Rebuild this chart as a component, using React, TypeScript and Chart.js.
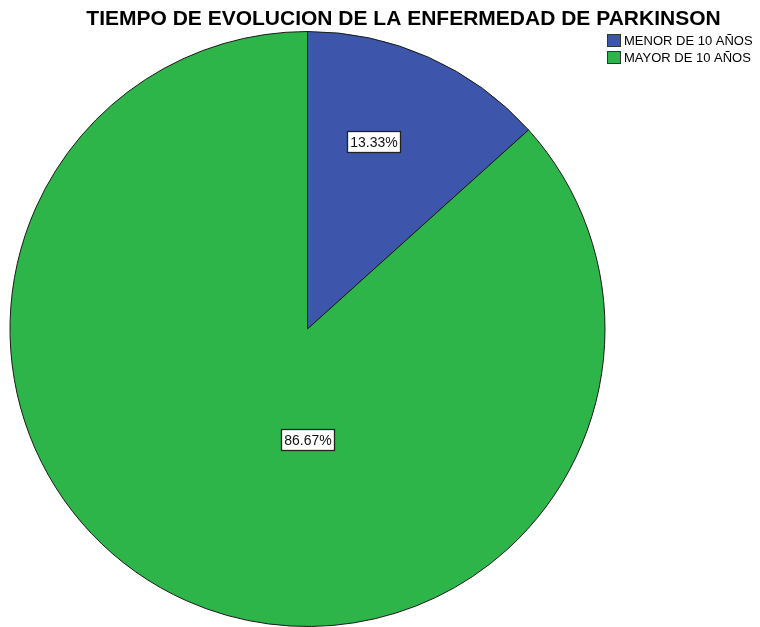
import React, { useEffect, useRef } from "react";
import { Chart, registerables } from "chart.js";

Chart.register(...registerables);

const TITLE = "TIEMPO DE EVOLUCION DE LA ENFERMEDAD DE PARKINSON";
const categories = ["MENOR DE 10 AÑOS", "MAYOR DE 10 AÑOS"];
const counts = [2, 13];
const colors = ["#3D56AB", "#2DB54A"];

const overlayPlugin = {
  id: "overlay",
  afterDraw(chart: any) {
    const ctx = chart.ctx as CanvasRenderingContext2D;
    const total = counts.reduce((a, b) => a + b, 0);
    // title
    ctx.save();
    ctx.fillStyle = "#000";
    ctx.font = "bold 21px 'Liberation Sans', Arial, sans-serif";
    ctx.textAlign = "center";
    ctx.textBaseline = "alphabetic";
    ctx.fillText(TITLE, 403.5, 25);
    ctx.restore();

    // legend
    ctx.save();
    ctx.font = "13px 'Liberation Sans', Arial, sans-serif";
    ctx.textBaseline = "middle";
    categories.forEach((c, i) => {
      const y = 34.5 + i * 17;
      ctx.fillStyle = colors[i];
      ctx.fillRect(607.5, y, 13, 12);
      ctx.strokeStyle = "#333";
      ctx.lineWidth = 1;
      ctx.strokeRect(607.5, y, 13, 12);
      ctx.fillStyle = "#000";
      ctx.fillText(c, 624, y + 7);
    });
    ctx.restore();

    // labels
    const meta = chart.getDatasetMeta(0);
    const labelGeom = [
      { ang: 19.3, frac: 0.668 },
      { ang: 180, frac: 0.37 },
    ];
    ctx.save();
    ctx.font = "14px 'Liberation Sans', Arial, sans-serif";
    ctx.textAlign = "center";
    ctx.textBaseline = "middle";
    meta.data.forEach((arc: any, i: number) => {
      const g = labelGeom[i];
      const a = (g.ang * Math.PI) / 180;
      const r = arc.outerRadius * g.frac;
      const x = arc.x + Math.sin(a) * r;
      const y = arc.y - Math.cos(a) * r;
      const txt = ((counts[i] / total) * 100).toFixed(2) + "%";
      const w = 53;
      const h = 21;
      const bx = Math.round(x - w / 2) + 0.5;
      const by = Math.round(y - h / 2) + 0.5;
      ctx.fillStyle = "#fff";
      ctx.fillRect(bx, by, w, h);
      ctx.strokeStyle = "#222";
      ctx.lineWidth = 1.3;
      ctx.strokeRect(bx, by, w, h);
      ctx.fillStyle = "#111";
      ctx.fillText(txt, bx + w / 2, by + h / 2 + 1);
    });
    ctx.restore();
  },
};

export default function App() {
  const ref = useRef<HTMLCanvasElement>(null);
  useEffect(() => {
    if (!ref.current) return;
    const chart = new Chart(ref.current, {
      type: "pie",
      data: {
        labels: categories,
        datasets: [
          {
            data: counts,
            backgroundColor: colors,
            borderColor: "#1a1a1a",
            borderWidth: 1,
          },
        ],
      },
      options: {
        responsive: false,
        animation: false,
        layout: { padding: { left: 8, right: 153, top: 31, bottom: 0 } },
        plugins: {
          legend: { display: false },
          title: { display: false },
          tooltip: { enabled: false },
        },
      },
      plugins: [overlayPlugin],
    });
    return () => chart.destroy();
  }, []);
  return (
    <div style={{ position: "absolute", left: 0, top: 0, width: 760, height: 627, background: "#fff" }}>
      <canvas ref={ref} width={760} height={627} style={{ display: "block" }} />
    </div>
  );
}
